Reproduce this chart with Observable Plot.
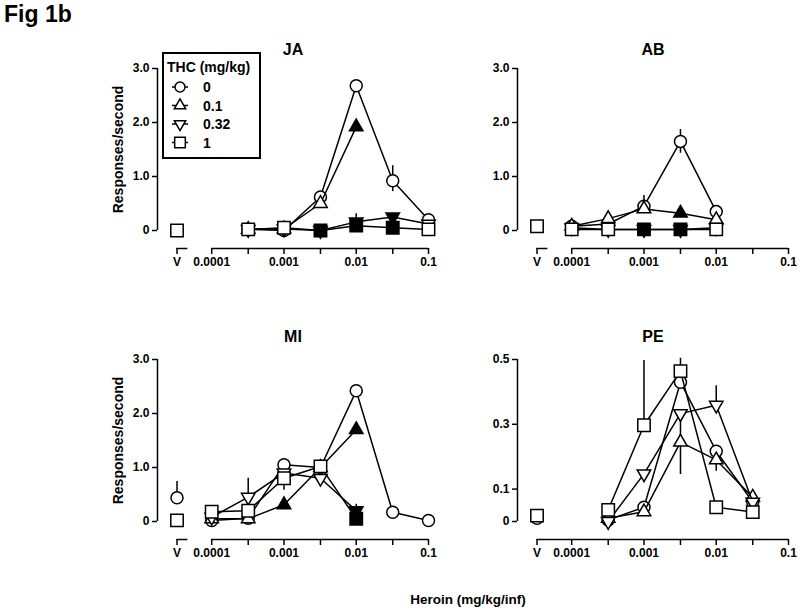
<!DOCTYPE html>
<html><head><meta charset="utf-8">
<script src="https://cdn.jsdelivr.net/npm/d3@7"></script>
<script src="https://cdn.jsdelivr.net/npm/@observablehq/plot@0.6"></script>
<style>
body{margin:0;background:#fff;font-family:"Liberation Sans",Arial,sans-serif;}
#root{position:relative;width:800px;height:613px;overflow:hidden;background:#fff;}
.panel{position:absolute;}
.panel svg text{font-weight:bold;}
#fig{position:absolute;left:4px;top:1px;font-size:23px;font-weight:bold;}
#xlab{position:absolute;left:0;width:936px;top:592px;text-align:center;font-size:13.5px;font-weight:bold;}
#legend{position:absolute;left:162px;top:52px;}
</style></head><body><div id="root"><div id="fig">Fig 1b</div><div id="xlab">Heroin (mg/kg/inf)</div></div>
<script>
// ---- categories ----
const THC = ["0", "0.1", "0.32", "1"];
const DOSES = [0.0001, 0.00032, 0.001, 0.0032, 0.01, 0.032, 0.1];
const X_TICK_LABELS = ["V", "0.0001", "", "0.001", "", "0.01", "", "0.1"];
const LEGEND_TITLE = "THC (mg/kg)";
const X_TITLE = "Heroin (mg/kg/inf)";
const Y_TITLE = "Responses/second";

// ---- JA ----
const JA_V   = [null, null, null, 0];
const JA_0   = [null, 0.02, 0.0, 0.62, 2.68, 0.92, 0.2];
const JA_01  = [null, 0.02, 0.03, 0.5, 1.92, null, null];
const JA_032 = [null, 0.02, 0.03, 0.0, 0.16, 0.25, 0.12];
const JA_1   = [null, 0.02, 0.05, 0.0, 0.09, 0.05, 0.02];
const JA_F01 = [0, 0, 0, 0, 1, 0, 0];
const JA_F032 = [0, 0, 0, 1, 1, 1, 0];
const JA_F1  = [0, 0, 0, 1, 1, 1, 0];
const JA_E0  = [null, null, null, null, null, [0.2, 0.28], null];
const JA_E032 = [null, null, null, null, 0.15, null, null];

// ---- AB ----
const AB_V   = [null, null, null, 0.08];
const AB_0   = [0.08, 0.12, 0.45, 1.65, 0.35, null, null];
const AB_01  = [0.08, 0.22, 0.4, 0.32, 0.2, null, null];
const AB_032 = [0.05, 0.02, 0.02, 0.02, 0.05, null, null];
const AB_1   = [0.02, 0.02, 0.02, 0.02, 0.02, null, null];
const AB_F01 = [0, 0, 0, 1, 0, 0, 0];
const AB_F032 = [0, 0, 1, 1, 0, 0, 0];
const AB_F1  = [0, 0, 1, 1, 0, 0, 0];
const AB_E0  = [null, null, [0.12, 0.2], [0.22, 0.22], null, null, null];

// ---- MI ----
const MI_V   = [0.44, null, null, 0.02];
const MI_VE0 = 0.3;
const MI_0   = [0.02, 0.06, 1.05, 1.0, 2.42, 0.17, 0.02];
const MI_01  = [0.05, 0.05, 0.31, 1.0, 1.7, null, null];
const MI_032 = [0.08, 0.45, 0.9, 0.8, 0.2, null, null];
const MI_1   = [0.18, 0.2, 0.8, 1.02, 0.05, null, null];
const MI_F01 = [0, 0, 1, 0, 1, 0, 0];
const MI_F032 = [0, 0, 0, 0, 1, 0, 0];
const MI_F1  = [0, 0, 0, 0, 1, 0, 0];
const MI_E032 = [null, 0.35, null, null, 0.12, null, null];
const MI_E1  = [null, null, -0.22, null, null, null, null];

// ---- PE ----
const PE_V   = [0.01, null, null, 0.018];
const PE_0   = [null, 0.005, 0.044, 0.43, 0.217, 0.06, null];
const PE_01  = [null, 0.01, 0.03, 0.245, 0.19, 0.075, null];
const PE_032 = [null, 0.0, 0.147, 0.333, 0.359, 0.06, null];
const PE_1   = [null, 0.036, 0.297, 0.464, 0.044, 0.029, null];
const PE_E01 = [null, null, null, [0.1, 0.1], -0.035, null, null];
const PE_E032 = [null, null, null, null, 0.06, null, null];
const PE_E1  = [null, null, 0.2, 0.04, null, null, null];

// ---- layout constants (scale positions, not data) ----
const VX = -4.48;       // position of the vehicle category on the log-dose axis
const X0 = -4.75;       // left end of x scale (where y axis sits)
const XMAX = -1;
const AXIS_DROP = 18;   // x axis drawn below the y=0 line
const SYM = [
  {symbol: "circle", r: 6, rotate: 0},
  {symbol: "triangle", r: 5, rotate: 0},
  {symbol: "triangle", r: 5, rotate: 180},
  {symbol: "square", r: 7, rotate: 0}
];
const NONE = [null, null, null, null, null, null, null];
const ZERO = [0, 0, 0, 0, 0, 0, 0];

const fmt3 = d => d === 0 ? "0" : d.toFixed(1);
const panels = [
  {title: "JA", left: 100, top: 30, width: 350, titleDy: -25, yLabel: true, yMax: 3, yTicks: [0, 1, 2, 3],
   vSeg: true, V: JA_V, VE: [null, null, null, null], series: [JA_0, JA_01, JA_032, JA_1],
   filled: [ZERO, JA_F01, JA_F032, JA_F1], err: [JA_E0, NONE, JA_E032, NONE]},
  {title: "AB", left: 460, top: 30, width: 340, titleDy: -25, yLabel: false, yMax: 3, yTicks: [0, 1, 2, 3],
   vSeg: true, V: AB_V, VE: [null, null, null, null], series: [AB_0, AB_01, AB_032, AB_1],
   filled: [ZERO, AB_F01, AB_F032, AB_F1], err: [AB_E0, NONE, NONE, NONE]},
  {title: "MI", left: 100, top: 321, width: 350, titleDy: -29, yLabel: true, yMax: 3, yTicks: [0, 1, 2, 3],
   vSeg: true, V: MI_V, VE: [MI_VE0, null, null, null], series: [MI_0, MI_01, MI_032, MI_1],
   filled: [ZERO, MI_F01, MI_F032, MI_F1], err: [NONE, NONE, MI_E032, MI_E1]},
  {title: "PE", left: 460, top: 321, width: 340, titleDy: -29, yLabel: false, yMax: 0.5, yTicks: [0, 0.1, 0.3, 0.5],
   vSeg: false, V: PE_V, VE: [null, null, null, null], series: [PE_0, PE_01, PE_032, PE_1],
   filled: [ZERO, ZERO, ZERO, ZERO], err: [NONE, PE_E01, PE_E032, PE_E1]}
];

const TICK_POS = [VX, ...DOSES.map(d => Math.log10(d))];
const tickLabel = new Map(TICK_POS.map((p, i) => [p, X_TICK_LABELS[i]]));

function errRow(x, y, e) {
  if (e == null) return null;
  if (Array.isArray(e)) return {x, y1: y - e[0], y2: y + e[1]};
  return {x, y1: y, y2: y + e};
}

function makePanel(p) {
  const marks = [];
  // axes
  marks.push(Plot.ruleX([X0], {y1: 0, y2: p.yMax, stroke: "black", strokeWidth: 1.5}));
  marks.push(Plot.axisY({ticks: p.yTicks, tickFormat: fmt3, label: null, tickSize: 5, tickPadding: 3, fontSize: 12, strokeWidth: 1.5}));
  marks.push(Plot.ruleY([0], {x1: p.vSeg ? Math.log10(DOSES[0]) : VX, x2: XMAX, dy: AXIS_DROP, stroke: "black", strokeWidth: 1.5}));
  if (p.vSeg) marks.push(Plot.ruleY([0], {x1: VX, x2: VX + 0.15, dy: AXIS_DROP, stroke: "black", strokeWidth: 1.5}));
  marks.push(Plot.axisX({ticks: TICK_POS, tickFormat: d => tickLabel.get(d), label: null, dy: AXIS_DROP, tickSize: 6, tickPadding: 3, fontSize: 12, strokeWidth: 1.5}));
  marks.push(Plot.text([p.title], {frameAnchor: "top", dy: p.titleDy, fontSize: 16}));
  if (p.yLabel) marks.push(Plot.text([Y_TITLE], {frameAnchor: "left", textAnchor: "middle", rotate: -90, dx: -39, fontSize: 14}));

  p.series.forEach((vals, k) => {
    const pts = [];
    const errs = [];
    vals.forEach((v, i) => {
      if (v == null) return;
      const x = Math.log10(DOSES[i]);
      pts.push({x, y: v, filled: !!p.filled[k][i], thc: THC[k]});
      const er = errRow(x, v, p.err[k][i]);
      if (er) errs.push(er);
    });
    const vpts = p.V[k] == null ? [] : [{x: VX, y: p.V[k], filled: false, thc: THC[k]}];
    if (p.VE[k] != null) errs.push(errRow(VX, p.V[k], p.VE[k]));
    marks.push(Plot.line(pts, {x: "x", y: "y", stroke: "black", strokeWidth: 1.5}));
    marks.push(Plot.ruleX(errs, {x: "x", y1: "y1", y2: "y2", stroke: "black", strokeWidth: 1.5}));
    const all = pts.concat(vpts);
    const s = SYM[k];
    marks.push(Plot.dot(all.filter(d => !d.filled), {x: "x", y: "y", symbol: s.symbol, r: s.r, rotate: s.rotate, fill: "white", stroke: "black", strokeWidth: 1.5}));
    marks.push(Plot.dot(all.filter(d => d.filled), {x: "x", y: "y", symbol: s.symbol, r: s.r, rotate: s.rotate, fill: "black", stroke: "black", strokeWidth: 1.5}));
  });

  const width = p.width;
  const chart = Plot.plot({
    width, height: 260,
    marginLeft: 57, marginRight: width - 328, marginTop: 38, marginBottom: 60,
    x: {type: "linear", domain: [X0, XMAX], axis: null},
    y: {type: "linear", domain: [0, p.yMax], axis: null},
    style: {background: "transparent", fontFamily: "'Liberation Sans', Arial, sans-serif", fontSize: "12px", overflow: "visible", color: "black"},
    marks
  });
  const div = document.createElement("div");
  div.className = "panel";
  div.style.left = p.left + "px";
  div.style.top = p.top + "px";
  div.appendChild(chart);
  document.getElementById("root").appendChild(div);
}

panels.forEach(makePanel);

// ---- legend ----
(function legend() {
  const W = 99, H = 107;
  const svg = d3.create("svg").attr("width", W).attr("height", H).attr("id", "legend")
    .style("position", "absolute").style("left", "162px").style("top", "52px")
    .style("font-family", "'Liberation Sans', Arial, sans-serif").style("font-weight", "bold");
  svg.append("rect").attr("x", 1).attr("y", 1).attr("width", W - 2).attr("height", H - 2)
    .attr("fill", "white").attr("stroke", "black").attr("stroke-width", 2);
  svg.append("text").attr("x", 5).attr("y", 20).attr("font-size", 14).text(LEGEND_TITLE);
  const rowsY = [35, 53.5, 72, 90.5];
  const dsym = [d3.symbolCircle, d3.symbolTriangle, d3.symbolTriangle, d3.symbolSquare];
  const sizes = [Math.PI * 25, Math.PI * 18, Math.PI * 18, Math.PI * 36];
  THC.forEach((t, k) => {
    const g = svg.append("g").attr("transform", `translate(18,${rowsY[k]})`);
    g.append("line").attr("x1", -8).attr("x2", 8).attr("stroke", "black").attr("stroke-width", 1.5);
    g.append("path").attr("d", d3.symbol(dsym[k], sizes[k])()).attr("fill", "white").attr("stroke", "black")
      .attr("stroke-width", 1.5).attr("transform", k === 2 ? "rotate(180)" : null);
    svg.append("text").attr("x", 41).attr("y", rowsY[k]).attr("dy", "0.36em").attr("font-size", 14).text(t);
  });
  document.getElementById("root").appendChild(svg.node());
})();
document.getElementById("xlab").textContent = X_TITLE;
</script>
</body></html>
